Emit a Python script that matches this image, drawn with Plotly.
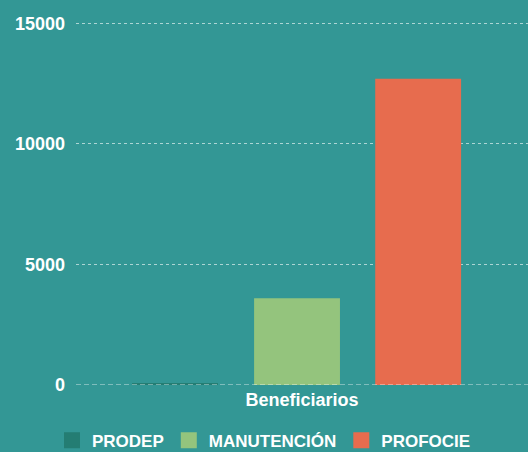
import plotly.graph_objects as go

categories = ["Beneficiarios"]
series_names = ["PRODEP", "MANUTENCIÓN", "PROFOCIE"]
prodep = [80]
manutencion = [3600]
profocie = [12700]
colors = ["#247d73", "#94c47d", "#e76c4e"]
y_ticks = [0, 5000, 10000, 15000]
y_tick_labels = ["0", "5000", "10000", "15000"]

values = [prodep, manutencion, profocie]
bar_offsets = [-0.376, -0.106, 0.162]
BG = "#339795"
fig = go.Figure()
for name, vals, col, off in zip(series_names, values, colors, bar_offsets):
    fig.add_trace(go.Bar(x=categories, y=vals, name=name, width=0.19, offset=off,
                         marker=dict(color=col, line=dict(width=0)), showlegend=False))
for name, col in zip(series_names, colors):
    fig.add_trace(go.Scatter(x=[None], y=[None], mode="markers", name=name,
                             marker=dict(symbol="square", size=16, color=col)))

fig.add_shape(type="line", xref="paper", yref="y", x0=0, x1=1, y0=0, y1=0,
              line=dict(color="rgba(255,255,255,0.75)", width=1, dash="5px,3px"), layer="above")

fig.update_layout(
    width=528, height=452,
    paper_bgcolor=BG, plot_bgcolor=BG,
    margin=dict(l=76, r=0, t=22, b=67, autoexpand=False),
    barmode="overlay",
    font=dict(family="Liberation Sans, Arial, sans-serif", color="white", size=17),
    legend=dict(orientation="h", xref="container", x=0.5, xanchor="center",
                yref="container", y=0.025, yanchor="middle",
                font=dict(size=17, weight="bold"), itemwidth=30, tracegroupgap=0),
    xaxis=dict(showgrid=False, zeroline=False, showline=False, ticks="",
               tickfont=dict(size=18, weight="bold"), ticklabelstandoff=2),
    yaxis=dict(range=[0, 15050], tickvals=y_ticks, ticktext=y_tick_labels, showgrid=True,
               gridcolor="rgba(255,255,255,0.6)", griddash="dot", gridwidth=1,
               zeroline=False, showline=False, ticks="", ticklabelstandoff=10,
               tickfont=dict(size=18, weight="bold")),
)
fig.write_html("out.html", config={"displayModeBar": False},
               post_script="document.body.style.margin='0';document.body.style.overflow='hidden';")
